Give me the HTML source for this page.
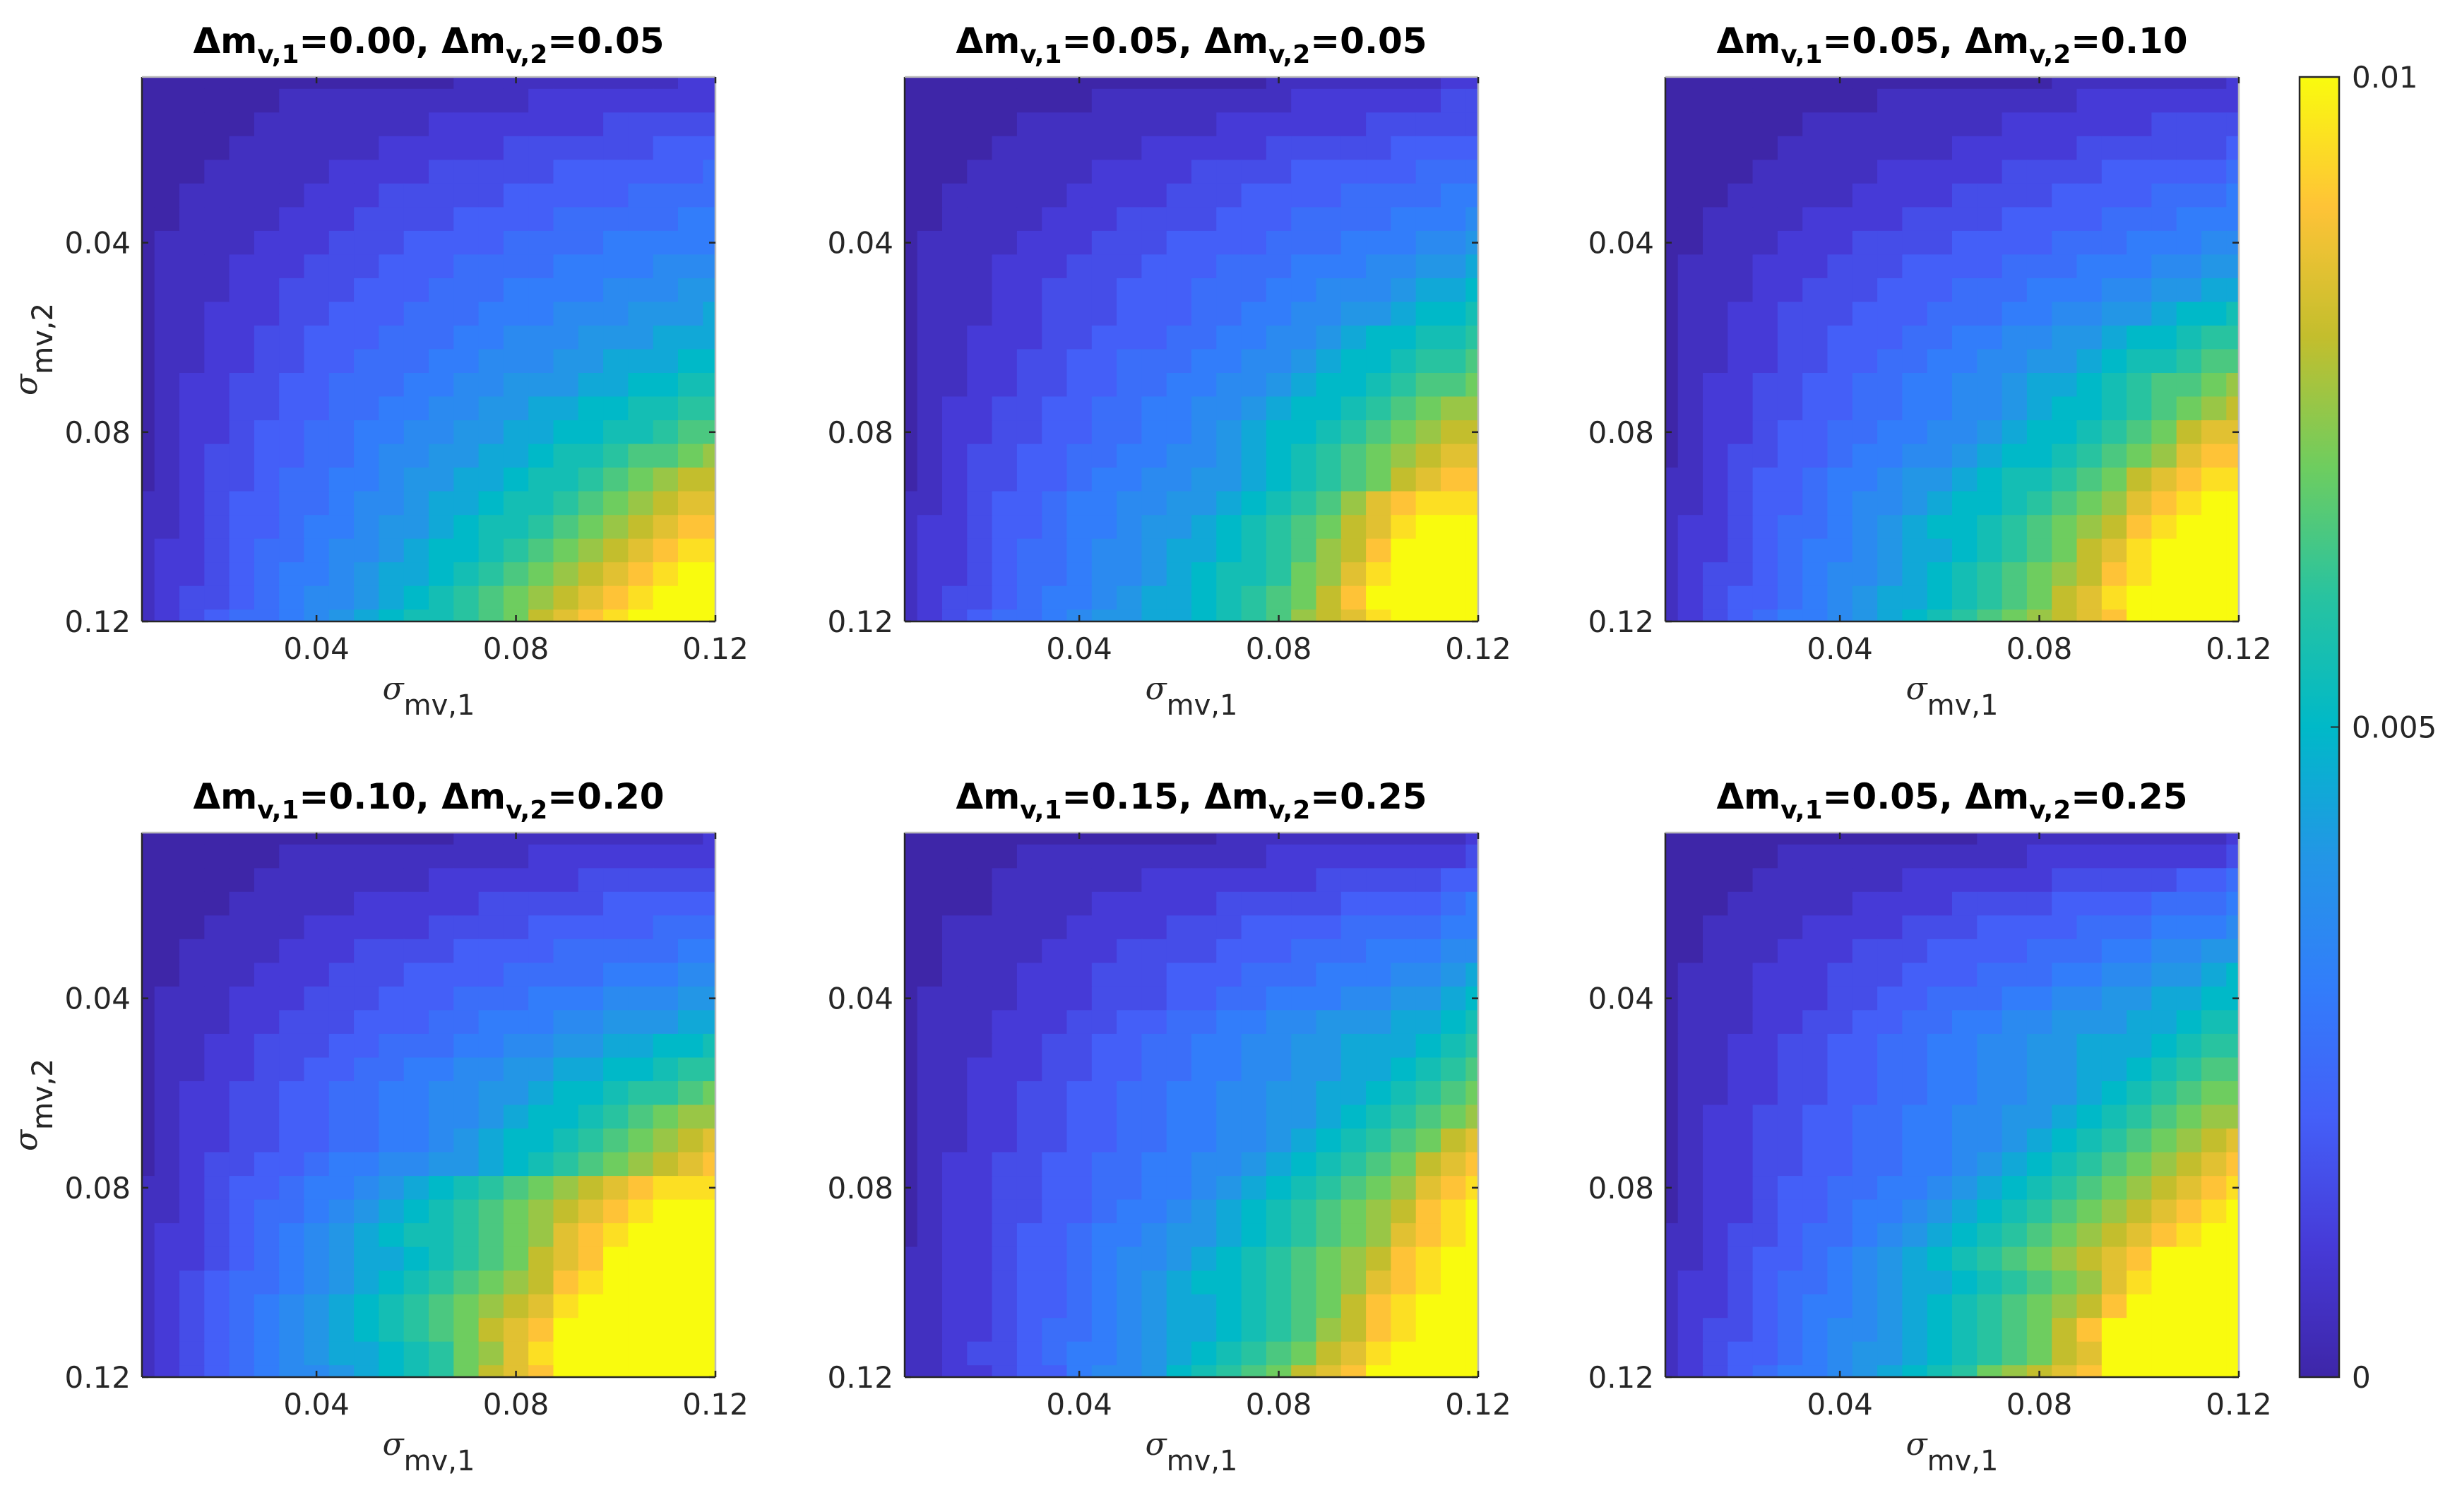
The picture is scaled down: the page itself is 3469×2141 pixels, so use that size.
<!DOCTYPE html>
<html><head><meta charset="utf-8"><style>
html,body{margin:0;padding:0;background:#fff;}
svg{display:block;font-family:"DejaVu Sans","Liberation Sans",sans-serif;}
</style></head><body>
<svg id="fig" xmlns="http://www.w3.org/2000/svg" width="3469" height="2141" viewBox="0 0 3469 2141"></svg>
<script>
// grid axes values (sigma_mv,1 columns; sigma_mv,2 rows)
const sigmaValues = [0.005,0.01,0.015,0.02,0.025,0.03,0.035,0.04,0.045,0.05,0.055,0.06,0.065,0.07,0.075,0.08,0.085,0.09,0.095,0.1,0.105,0.11,0.115,0.12];
const tickValues = [0.04,0.08,0.12];
const tickLabels = ["0.04","0.08","0.12"];
const cbTickValues = [0,0.005,0.01];
const cbTickLabels = ["0","0.005","0.01"];
const titles1 = ["0.00","0.05","0.05","0.10","0.15","0.05"];
const titles2 = ["0.05","0.05","0.10","0.20","0.25","0.25"];
const levelStep = 0.0005; // each code char = level * 0.0005
// cell levels, rows top (sigma_mv,2=0.005) to bottom (0.12); chars 0..K = 0..20
const panel1 = ["000000000000011111111122","000000111111111122222222","000001111111222222233333","000011111122222333333444","000111112222333334444445","001111122233333444445555","001111222333344445555566","011112223334444555566666","011122233344455556666777","011122333444555666677788","011222334445556667778889","011223344455566777888999","0112233445556677788999AA","01223344555667788899AABB","012233445566778899AABBCC","01223445566778899AABBCDD","0123344556778899ABBCDDEF","012334556678899ABBCDEFGG","11234455677899ABBCDEFGHH","1123445667889ABBCDEFGHII","122345567789AABCDEFGHIJJ","122345667899ABCDEFGHIJKK","12334567789ABCDEFGHIJKKK","1234556789ABBCDEGHIJKKKK"];
const panel2 = ["000000000000000111111122","000000001111111122222233","000001111111122222233333","000011111122222333334444","000111112222333344444555","001111122223334444555566","001111222333344455556667","011112223334444555666778","011122233344455566677889","01112233344455566777899A","011122333444556677889AAB","0112223344455667789AABBC","011223344555667789AABCCD","01122334455667789AABCDDE","0122334455667789AABCDEFF","012233445566789AABCDEFGG","012334455667789ABCDEFGHH","012334456677889ABCDEGHII","11234456677889ABCDFHIJJJ","1223445667889ABCDEGHJKKK","1223455677899ABCDFGIKKKK","122345567789ABBCEFHJKKKK","123345667899ABCDEGIKKKKK","123455678899ABCDFGHJKKKK"];
const panel3 = ["000000000000000011111112","000000000111111112222222","000000111111112222223333","000001111111222223333334","000011111222223333444445","000111112222333344445556","001111222233334444555666","001112223333444455566677","011122233344445556667788","011122333444555666778899","011223334445556677889AAB","0112233444556677889AABCC","011223344556677889ABBCDD","01223344556677899ABCDDEF","0122334455667789AABCDEFG","012234455667789AABCDEGHH","01233445667789AABCDEFHII","1123445667889ABBCDEGHIJJ","112344567789AABCDEFHIJKK","12234556789AABCDEFGIJKKK","122345667899ABCDEGHJKKKK","12334567789ABCDEFGIJKKKK","12344567899ABCDEGHJKKKKK","1234566789ABCDEFGHIKKKKK"];
const panel4 = ["000000000000011111111112","000000111111111122222222","000001111111222222333333","000011111222223333344444","000111122222333344444555","001111222333344445555566","001112223334444555566677","011122233344455566677788","011122333444556667788899","011223334455566778899AAB","0112233445566778899AABCC","01223344556677889AABCCDE","0122334455667789AABCDEFF","012233445566789AABCDEFGH","012334456677889ABCDEFGHI","112344566789ABCDEFGHIJJJ","11234556789ABCDEFGHIJKKK","1223456789ABBCDEFHIJKKKK","12234567899ABCDEGHIKKKKK","1234556789ABCDEFGIJKKKKK","123456789ABCDEFGHJKKKKKK","123456789ABCDEGHIKKKKKKK","1234567899ABCEFHJKKKKKKK","1234567789ABCEGHIKKKKKKK"];
const panel5 = ["000000000000011111111112","000001111111111222222223","000011111122222223333344","000011112222233333444456","001111122223334444555566","001111222333344455566677","001112223334445556667789","01111222333445566677889A","0111222334455667788899AB","011122334455667788999ABC","01122233445566778899ABCD","0112233445566778899ABCDE","011223344556677889ABCDEF","01122334455667789ABCDEGH","0122334455667789ABCDEGHI","012233445566789ABCDEFHIJ","01223344566789ABCDEFGIJK","01223445667889ABCDEFHIJK","1122344567789ABCDEFGIJKK","112234456789AABCDEFHIJKK","1122344567899ABCDEGIJKKK","1122345567899ABCDFGIJKKK","112334566789ABCDEGHJKKKK","11223446778ABCDEGHIKKKKK"];
const panel6 = ["000000000000011111111112","000001111111111222222223","000011111122222233333445","000111112222333344445556","001111222233344445556667","001112223334444555667788","01112223334445556677889A","0111222334455566778899AA","011122334455667788899ABB","01122334455667788999ABCC","0112233445566778899ABCDD","011223344556677889ABCDEE","01223344556677889ABCDEFF","0122334455667789ABCDEFGH","012233445566789ABCDEFGHI","01223445566789ABCDEFGHIJ","0122344566789ABCDEFGHIJK","112334556789ABCDEFGHIJKK","11234456789ABCDEFGHIKKKK","122345567899ABCDEFHJKKKK","12234566789ABCDEFGIKKKKK","12334567789ABCDEGIKKKKKK","12344567889ABCDEGHKKKKKK","1234566789ABCEFGHIKKKKKK"];
const panels = [panel1,panel2,panel3,panel4,panel5,panel6];
const codes = "0123456789ABCDEFGHIJK";

const NS="http://www.w3.org/2000/svg";
const svg=document.getElementById('fig');
const W=812,H=771,lefts=[201,1281,2358],tops=[109,1179];
const vmin=0.005,vmax=0.12,cmax=0.01;
const stops=[[62,38,168],[70,58,215],[68,95,248],[50,125,250],[35,150,230],[0,185,200],[40,195,160],[110,205,95],[195,190,45],[254,195,55],[249,251,14]];
function color(v){let t=Math.max(0,Math.min(1,v/cmax))*10;let i=Math.min(9,Math.floor(t)),f=t-i;const a=stops[i],b=stops[i+1];return 'rgb('+a.map((c,k)=>Math.round(c+(b[k]-c)*f)).join(',')+')';}
function el(tag,attrs,parent){const e=document.createElementNS(NS,tag);for(const k in attrs)e.setAttribute(k,attrs[k]);(parent||svg).appendChild(e);return e;}
function dec(p){return p.map(r=>r.slice(0,24).split('').map(c=>Math.max(0,codes.indexOf(c))*levelStep));}
const defs=el('defs',{});
panels.forEach((p,pi)=>{
  const L=lefts[pi%3],T=tops[Math.floor(pi/3)];
  const xs=v=>L+(v-vmin)/(vmax-vmin)*W, ys=v=>T+(v-vmin)/(vmax-vmin)*H;
  const cp=el('clipPath',{id:'c'+pi},defs);el('rect',{x:L,y:T,width:W,height:H},cp);
  const g=el('g',{'clip-path':'url(#c'+pi+')'});
  
  
  const data=dec(p);const dx=0.0025;
  data.forEach((row,ri)=>row.forEach((v,ci)=>{
    const x0=xs(sigmaValues[ci]-dx),x1=xs(sigmaValues[ci]+dx),y0=ys(sigmaValues[ri]-dx),y1=ys(sigmaValues[ri]+dx);
    const r=el('rect',{x:x0.toFixed(1),y:y0.toFixed(1),width:(x1-x0+0.8).toFixed(1),height:(y1-y0+0.8).toFixed(1),fill:color(v)},g);
    
    
  }));
  const ax=el('g',{stroke:'#262626','stroke-width':2.5,fill:'none'});
  
  
  el('line',{x1:L,y1:T+H,x2:L+W,y2:T+H},ax);el('line',{x1:L,y1:T,x2:L,y2:T+H},ax);
  el('line',{x1:L,y1:T,x2:L+W,y2:T,stroke:'#bbb'},ax);el('line',{x1:L+W,y1:T,x2:L+W,y2:T+H,stroke:'#bbb'},ax);
  tickValues.forEach((tv,k)=>{
    const x=xs(tv),y=ys(tv);
    el('line',{x1:x,y1:T+H,x2:x,y2:T+H-9},ax);el('line',{x1:x,y1:T,x2:x,y2:T+9},ax);
    el('line',{x1:L,y1:y,x2:L+9,y2:y},ax);el('line',{x1:L+W,y1:y,x2:L+W-9,y2:y},ax);
    const tx=el('text',{x:x,y:T+H+53,'font-size':42,'text-anchor':'middle',fill:'#262626'});tx.textContent=tickLabels[k];
    
    
    const ty=el('text',{x:L-16,y:y+15,'font-size':42,'text-anchor':'end',fill:'#262626'});ty.textContent=tickLabels[k];
    
    
  });
  const xl=el('text',{x:L+W/2,y:T+H+110,'font-size':44,'text-anchor':'middle',fill:'#262626'});
  xl.innerHTML='<tspan font-style="italic" font-family="DejaVu Serif,serif">σ</tspan><tspan dy="22" font-size="40">mv,1</tspan>';
  
  
  const yl=el('text',{x:0,y:0,'font-size':44,'text-anchor':'middle',fill:'#262626',transform:'translate(52,'+(T+H/2)+') rotate(-90)'});
  yl.innerHTML='<tspan font-style="italic" font-family="DejaVu Serif,serif">σ</tspan><tspan dy="22" font-size="40">mv,2</tspan>';
  
  
  const tt=el('text',{x:L+W/2,y:T-34,'font-size':50,'font-weight':'bold','text-anchor':'middle',fill:'#000'});
  tt.innerHTML='Δm<tspan dy="14" font-size="36">v,1</tspan><tspan dy="-14">='+titles1[pi]+', Δm</tspan><tspan dy="14" font-size="36">v,2</tspan><tspan dy="-14">='+titles2[pi]+'</tspan>';
  
  
});
// colorbar
const CL=3256,CW=56,CT=109,CB=1950;
const cb=el('g',{});


const grad=el('linearGradient',{id:'cbg',x1:0,y1:1,x2:0,y2:0},defs);
for(let i=0;i<=20;i++){el('stop',{offset:i/20,'stop-color':color(i/20*cmax)},grad);}
el('rect',{x:CL,y:CT,width:CW,height:CB-CT,fill:'url(#cbg)',stroke:'#262626','stroke-width':2.5},cb);
cbTickValues.forEach((v,k)=>{
  const y=CB-(v/cmax)*(CB-CT);
  el('line',{x1:CL+CW,y1:y,x2:CL+CW-12,y2:y,stroke:'#262626','stroke-width':2},cb);
  const t=el('text',{x:CL+CW+18,y:y+15,'font-size':42,fill:'#262626'},cb);t.textContent=cbTickLabels[k];
  
  
});
</script>
</body></html>
